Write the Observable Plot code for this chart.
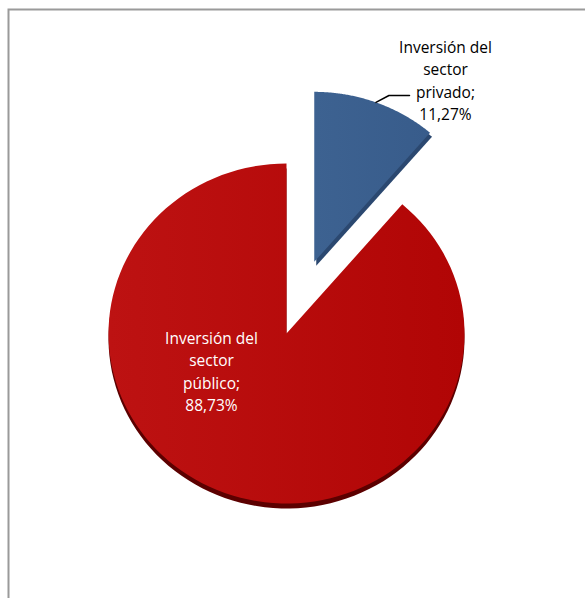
<!DOCTYPE html>
<html>
<head>
<meta charset="utf-8">
<script src="https://cdn.jsdelivr.net/npm/d3@7"></script>
<script src="https://cdn.jsdelivr.net/npm/@observablehq/plot@0.6"></script>
<style>
  html, body { margin: 0; padding: 0; background: #fff; }
  #chart svg { display: block; }
</style>
</head>
<body>
<div id="chart"></div>
<script>
// ---- data ----
const categories = ["Inversión del sector privado", "Inversión del sector público"];
const values = [11.27, 88.73];
const labelNames = ["Inversión del\nsector\nprivado;", "Inversión del\nsector\npúblico;"];
const labelValues = ["11,27%", "88,73%"];
const colors = ["#3b5f8f", "#b50909"];
const sideColors = ["#2b4870", "#5c0000"];
const exploded = [true, false];

// ---- layout ----
const W = 585, H = 598;
const cx = 286, cy = 333, rx = 178, ry = 170, explode = 80;

const arcs = d3.pie().sort(null).value(d => d)(values);
const slices = [];
const sides = [];
arcs.forEach((a, i) => {
  const mid = (a.startAngle + a.endAngle) / 2;
  const ox = exploded[i] ? explode * Math.sin(mid) : 0;
  const oy = exploded[i] ? -explode * Math.cos(mid) * (ry / rx) : 0;
  const px = cx + ox, py = cy + oy;
  const n = 120;
  const pts = [{slice: categories[i], x: px, y: py}];
  for (let k = 0; k <= n; k++) {
    const t = a.startAngle + (a.endAngle - a.startAngle) * k / n;
    pts.push({slice: categories[i], x: px + rx * Math.sin(t), y: py - ry * Math.cos(t)});
  }
  pts.push({slice: categories[i], x: px, y: py});
  pts.forEach(p => slices.push({...p, i}));
  const dx = exploded[i] ? 2 : 0, dy = exploded[i] ? 4 : 5;
  pts.forEach(p => sides.push({slice: p.slice, x: p.x + dx, y: p.y + dy, i}));
  a.px = px; a.py = py; a.mid = mid;
});

// label for the exploded slice (outside, with a leader)
const outA = arcs[0];
const leaderStart = {x: outA.px + rx * Math.sin(outA.mid), y: outA.py - ry * Math.cos(outA.mid)};
const outLabel = {x: 445, y: 79};
const leader = [
  leaderStart,
  {x: leaderStart.x + 13, y: 95},
  {x: outLabel.x - 36, y: 95}
];
// label inside the big slice
const inLabel = {x: 211, y: 370};

const texts = [
  {x: outLabel.x, y: outLabel.y, text: labelNames[0] + "\n" + labelValues[0], fill: "#000"},
  {x: inLabel.x, y: inLabel.y, text: labelNames[1] + "\n" + labelValues[1], fill: "#fff"}
];

const defs = () => {
  const d = d3.create("svg:defs");
  const g1 = d.append("linearGradient").attr("id", "gRed").attr("x1", 0).attr("x2", 1).attr("y1", 0).attr("y2", 0);
  g1.append("stop").attr("offset", "0%").attr("stop-color", "#bd1212");
  g1.append("stop").attr("offset", "100%").attr("stop-color", "#b10505");
  const g2 = d.append("linearGradient").attr("id", "gBlue").attr("x1", 0).attr("x2", 1).attr("y1", 0).attr("y2", 0);
  g2.append("stop").attr("offset", "0%").attr("stop-color", "#3d6291");
  g2.append("stop").attr("offset", "100%").attr("stop-color", "#385c8b");
  return d.node();
};
const grad = ["url(#gBlue)", "url(#gRed)"];

const chart = Plot.plot({
  width: W,
  height: H,
  margin: 0,
  x: {domain: [0, W], range: [0, W], axis: null},
  y: {domain: [0, H], range: [0, H], axis: null},
  style: {background: "#fff", fontFamily: "'Open Sans', Lato, sans-serif"},
  marks: [
    defs,
    Plot.frame({stroke: "#9a9a9a", strokeWidth: 2, insetLeft: 8, insetTop: 9, insetRight: -10, insetBottom: -10}),
    Plot.line(sides, {x: "x", y: "y", z: "slice", fill: d => sideColors[d.i], stroke: "none", curve: "linear"}),
    Plot.line(slices, {x: "x", y: "y", z: "slice", fill: d => grad[d.i], stroke: "none", curve: "linear"}),
    Plot.line(leader, {x: "x", y: "y", stroke: "#000", strokeWidth: 1.5, curve: "linear"}),
    Plot.text(texts, {x: "x", y: "y", text: "text", fill: "fill", fontSize: 15.5, lineHeight: 1.45, textAnchor: "middle", lineAnchor: "middle"})
  ]
});
document.getElementById("chart").appendChild(chart);
</script>
</body>
</html>
